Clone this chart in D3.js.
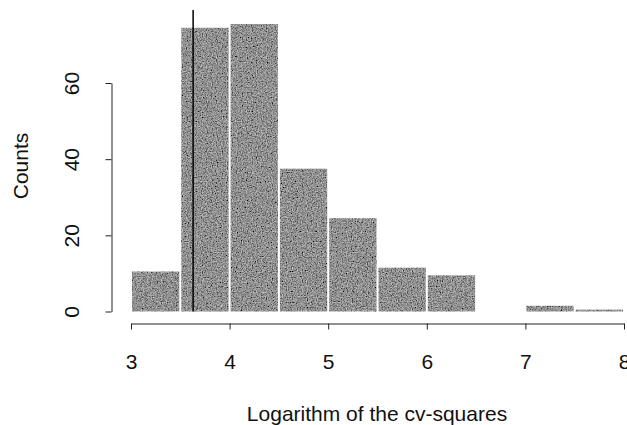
<!DOCTYPE html>
<head>
    <meta charset="utf-8">
    <title>Histogram of log cv-squares</title>
    <style>
        body { margin: 0; background: #fff; }
        text { font-family: "Liberation Sans", Arial, sans-serif; fill: #111; }
    </style>
</head>
<body>

<script src="https://d3js.org/d3.v7.min.js"></script>

<script>

    // histogram bins (log cv-squares), 0.5 wide
    var binStarts = [3.0, 3.5, 4.0, 4.5, 5.0, 5.5, 6.0, 6.5, 7.0, 7.5];
    var counts    = [10.5, 74.5, 75.5, 37.5, 24.5, 11.5, 9.5, 0, 1.5, 0.5];
    var binWidth = 0.5;

    var xTicks = [3, 4, 5, 6, 7, 8];
    var yTicks = [0, 20, 40, 60];
    var markerValue = 3.63;   // vertical reference line

    var width = 627, height = 425;

    var x = d3.scaleLinear()
        .domain([3, 8])
        .range([131, 624]);

    var y = d3.scaleLinear()
        .domain([0, 60])
        .range([311.5, 83]);

    var svg = d3.select('body').append('svg')
        .attr('width', width)
        .attr('height', height);

    // grainy photocopy-like fill
    var defs = svg.append('defs');
    var grain = defs.append('filter')
        .attr('id', 'grain')
        .attr('x', 0).attr('y', 0)
        .attr('width', 1).attr('height', 1);
    grain.append('feTurbulence')
        .attr('type', 'fractalNoise')
        .attr('baseFrequency', 0.8)
        .attr('numOctaves', 2)
        .attr('seed', 4)
        .attr('result', 'noise');
    grain.append('feColorMatrix')
        .attr('in', 'noise')
        .attr('type', 'matrix')
        .attr('values', '0.9 0 0 0 -0.17  0.9 0 0 0 -0.17  0.9 0 0 0 -0.17  0 0 0 0 1')
        .attr('result', 'gray');
    grain.append('feComposite')
        .attr('in', 'gray')
        .attr('in2', 'SourceGraphic')
        .attr('operator', 'in');

    var bars = svg.append('g')
        .attr('class', 'bars');

    bars.selectAll('rect')
        .data(binStarts.map(function(b, i) { return {x0: b, x1: b + binWidth, n: counts[i]}; })
            .filter(function(d) { return d.n > 0; }))
        .enter().append('rect')
        .attr('x', function(d) { return x(d.x0) + 1; })
        .attr('width', function(d) { return x(d.x1) - x(d.x0) - 2; })
        .attr('y', function(d) { return y(d.n); })
        .attr('height', function(d) { return y(0) - y(d.n); })
        .attr('fill', '#4d4d4d')
        .attr('filter', 'url(#grain)');

    // vertical reference line
    svg.append('line')
        .attr('x1', x(markerValue)).attr('x2', x(markerValue))
        .attr('y1', 10).attr('y2', y(0))
        .attr('stroke', '#000')
        .attr('stroke-width', 1.5);

    // x axis
    var xAxis = d3.axisBottom(x)
        .tickValues(xTicks)
        .tickSize(6)
        .tickSizeOuter(0)
        .tickPadding(25)
        .tickFormat(d3.format('d'));

    var gx = svg.append('g')
        .attr('class', 'x axis')
        .attr('transform', 'translate(0,323.5)')
        .call(xAxis);
    gx.selectAll('path, line').attr('stroke', '#222');
    gx.selectAll('text')
        .attr('font-size', '21px')
        .attr('font-family', '"Liberation Sans", Arial, sans-serif')
        .attr('fill', '#111');

    // y axis with rotated labels
    var yAxis = d3.axisLeft(y)
        .tickValues(yTicks)
        .tickSize(6)
        .tickSizeOuter(0);

    var gy = svg.append('g')
        .attr('class', 'y axis')
        .attr('transform', 'translate(111.5,0)')
        .call(yAxis);
    gy.selectAll('path, line').attr('stroke', '#222');
    gy.selectAll('text')
        .attr('transform', 'rotate(-90)')
        .attr('text-anchor', 'middle')
        .attr('x', 0)
        .attr('y', -33)
        .attr('dy', 0)
        .attr('font-size', '21px')
        .attr('font-family', '"Liberation Sans", Arial, sans-serif')
        .attr('fill', '#111');

    svg.append('text')
        .attr('transform', 'translate(28,166) rotate(-90)')
        .attr('text-anchor', 'middle')
        .attr('font-size', '21px')
        .text('Counts');

    svg.append('text')
        .attr('x', 377)
        .attr('y', 421)
        .attr('text-anchor', 'middle')
        .attr('font-size', '21px')
        .text('Logarithm of the cv-squares');

</script>

</body>
